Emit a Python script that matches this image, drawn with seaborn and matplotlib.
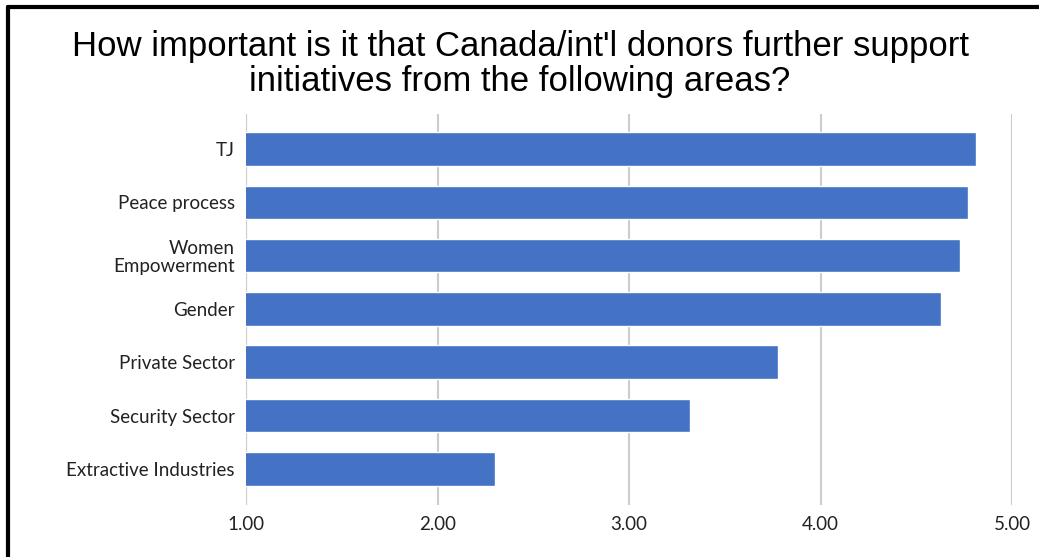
import matplotlib
matplotlib.use("Agg")
import matplotlib.pyplot as plt
from matplotlib.lines import Line2D
import seaborn as sns
import pandas as pd

# Survey results: mean importance rating (1-5 scale)
areas = [
    "TJ",
    "Peace process",
    "Women\nEmpowerment",
    "Gender",
    "Private Sector",
    "Security Sector",
    "Extractive Industries",
]
scores = [4.81, 4.77, 4.73, 4.63, 3.78, 3.32, 2.30]
x_ticks = [1.0, 2.0, 3.0, 4.0, 5.0]
title = "How important is it that Canada/int'l donors further support\ninitiatives from the following areas?"

df = pd.DataFrame({"area": areas, "score": scores})

sns.set_theme(style="white")
plt.rcParams["font.family"] = ["Lato", "DejaVu Sans"]

fig = plt.figure(figsize=(10.39, 5.57), dpi=100)
ax = fig.add_axes([246 / 1039, 1 - 505 / 557, (1012 - 246) / 1039, (505 - 114) / 557])

sns.barplot(data=df, x="score", y="area", color="#4472c4", width=0.63,
            saturation=1, ax=ax, zorder=3)

ax.set_xlim(1.0, 5.0)
ax.set_ylim(6.68, -0.66)
ax.set_xticks(x_ticks)
ax.set_xticklabels([f"{t:.2f}" for t in x_ticks], fontsize=13.5, color="#222222")
ax.tick_params(axis="y", labelsize=13.5, labelcolor="#222222", pad=8, length=0)
ax.tick_params(axis="x", pad=8, length=0)
for lbl in ax.get_yticklabels():
    lbl.set_horizontalalignment("right")
    lbl.set_linespacing(1.05)
ax.set_xlabel("")
ax.set_ylabel("")
ax.grid(axis="x", color="#cccccc", linewidth=1.5, zorder=0)
ax.grid(axis="y", visible=False)
for s in ax.spines.values():
    s.set_visible(False)

# baseline gridline at 1.00
ax.axvline(1.0, color="#cccccc", linewidth=1.5, zorder=0)

fig.text(520 / 1039, 1 - 64 / 557, title, ha="center", va="center",
         fontsize=25, family=["Liberation Sans", "DejaVu Sans"],
         linespacing=1.05, color="black")

# frame lines along the top and left of the figure
fig.add_artist(Line2D([8 / 1039, 1.0], [1 - 7 / 557, 1 - 7 / 557],
                      transform=fig.transFigure, color="black", linewidth=3))
fig.add_artist(Line2D([8 / 1039, 8 / 1039], [0.0, 1 - 7 / 557],
                      transform=fig.transFigure, color="black", linewidth=3))

fig.savefig("out.png", dpi=100, facecolor="white")
